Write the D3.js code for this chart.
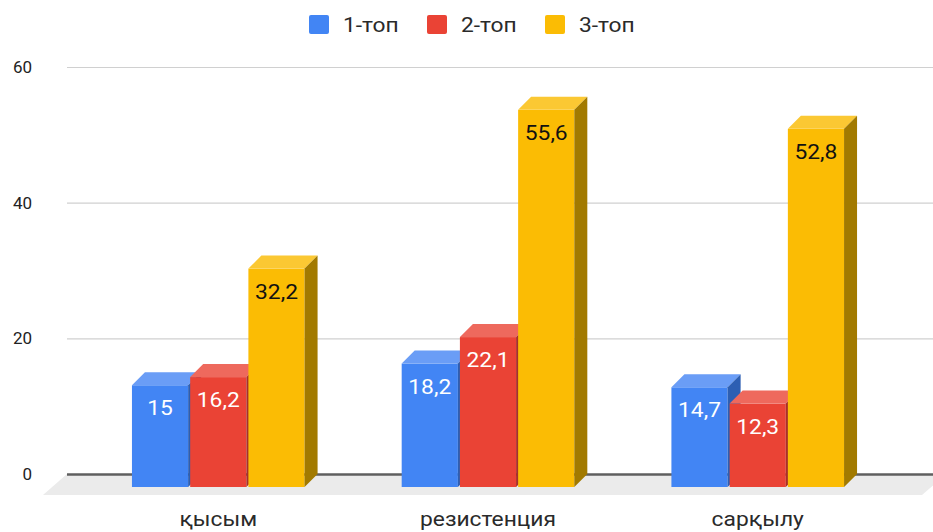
<!DOCTYPE html>
<html>
<head>
<meta charset="utf-8">
<script src="https://cdn.jsdelivr.net/npm/d3@7/dist/d3.min.js"></script>
<style>
  html, body { margin: 0; padding: 0; background: #fff; }
  svg { display: block; font-family: Roboto, "Noto Sans", Arial, sans-serif; }
</style>
</head>
<body>
<svg id="chart" width="933" height="532"></svg>
<script>
// Categories, series and values
const categories = ["қысым", "резистенция", "сарқылу"];
const seriesNames = ["1-топ", "2-топ", "3-топ"];
const values1 = [15, 18.2, 14.7];
const values2 = [16.2, 22.1, 12.3];
const values3 = [32.2, 55.6, 52.8];
const yTicks = [0, 20, 40, 60];

const seriesValues = [values1, values2, values3];
const faceColors = {
  front: ["#4285F4", "#EA4335", "#FBBC04"],
  top:   ["#6A9DF6", "#EE695D", "#FBC833"],
  side:  ["#2D5FB3", "#A8302A", "#A27A00"]
};
const labelColors = ["#ffffff", "#ffffff", "#111111"];

const W = 933, H = 532;
const dx = 13, dy = 13;          // bar depth offset
const stretch = 1.14;            // horizontal text scaling

const svg = d3.select("#chart");

const x0 = d3.scaleBand().domain(categories)
  .range([83.4, 892.6]).paddingInner(0.36).paddingOuter(0.18);
const x1 = d3.scaleBand().domain(seriesNames)
  .range([0, x0.bandwidth()]).paddingInner(0.035);
const y = d3.scaleLinear().domain([0, 60]).range([487, 80]);

// Floor
const backY = y(0) - dy, frontY = y(0) + 8;
svg.append("polygon")
  .attr("points", [[67, backY], [946, backY], [922, frontY], [43, frontY]].join(" "))
  .attr("fill", "#ebebeb");

// Gridlines and tick labels on the back wall
const axis = d3.axisLeft(y).tickValues(yTicks).tickSize(-(W - 67)).tickPadding(35);
const gAxis = svg.append("g")
  .attr("transform", `translate(67,${-dy})`)
  .call(axis);
gAxis.select(".domain").remove();
gAxis.selectAll(".tick line")
  .attr("stroke", d => d === 0 ? "#5f5f5f" : "#d0d0d0")
  .attr("stroke-width", d => d === 0 ? 2.5 : 1.2);
gAxis.selectAll(".tick text")
  .attr("x", -35)
  .attr("font-size", 17)
  .attr("font-family", "Roboto, sans-serif")
  .attr("fill", "#222");

// Bars
categories.forEach((cat, ci) => {
  const g = svg.append("g");
  seriesNames.forEach((s, si) => {
    const v = seriesValues[si][ci];
    const x = x0(cat) + x1(s);
    const w = x1.bandwidth();
    const top = y(v), bottom = y(0);
    g.append("rect")
      .attr("x", x).attr("y", top).attr("width", w).attr("height", bottom - top)
      .attr("fill", faceColors.front[si]);
    g.append("polygon")
      .attr("points", [[x, top], [x + dx, top - dy], [x + w + dx, top - dy], [x + w, top]].join(" "))
      .attr("fill", faceColors.top[si]);
    g.append("polygon")
      .attr("points", [[x + w, top], [x + w + dx, top - dy], [x + w + dx, bottom - dy], [x + w, bottom]].join(" "))
      .attr("fill", faceColors.side[si]);
    g.append("g")
      .attr("transform", `translate(${x + w / 2},${top + 23}) scale(${stretch},1)`)
      .append("text")
      .attr("text-anchor", "middle")
      .attr("dominant-baseline", "central")
      .attr("font-size", 20)
      .attr("fill", labelColors[si])
      .text(String(v).replace(".", ","));
  });
});

// Category labels
svg.append("g").selectAll("g")
  .data(categories)
  .join("g")
  .attr("transform", d => `translate(${x0(d) + x0.bandwidth() / 2},526) scale(${stretch},1)`)
  .append("text")
  .attr("text-anchor", "middle")
  .attr("font-size", 20)
  .attr("fill", "#2a2a2a")
  .text(d => d);

// Legend
const legendX = [309, 427, 545];
const legend = svg.append("g").selectAll("g")
  .data(seriesNames)
  .join("g")
  .attr("transform", (d, i) => `translate(${legendX[i]},15)`);
legend.append("rect")
  .attr("width", 20).attr("height", 19).attr("rx", 2)
  .attr("fill", (d, i) => faceColors.front[i]);
legend.append("g")
  .attr("transform", `translate(34,10) scale(${stretch},1)`)
  .append("text")
  .attr("dominant-baseline", "central")
  .attr("font-size", 20)
  .attr("fill", "#2a2a2a")
  .text(d => d);
</script>
</body>
</html>
